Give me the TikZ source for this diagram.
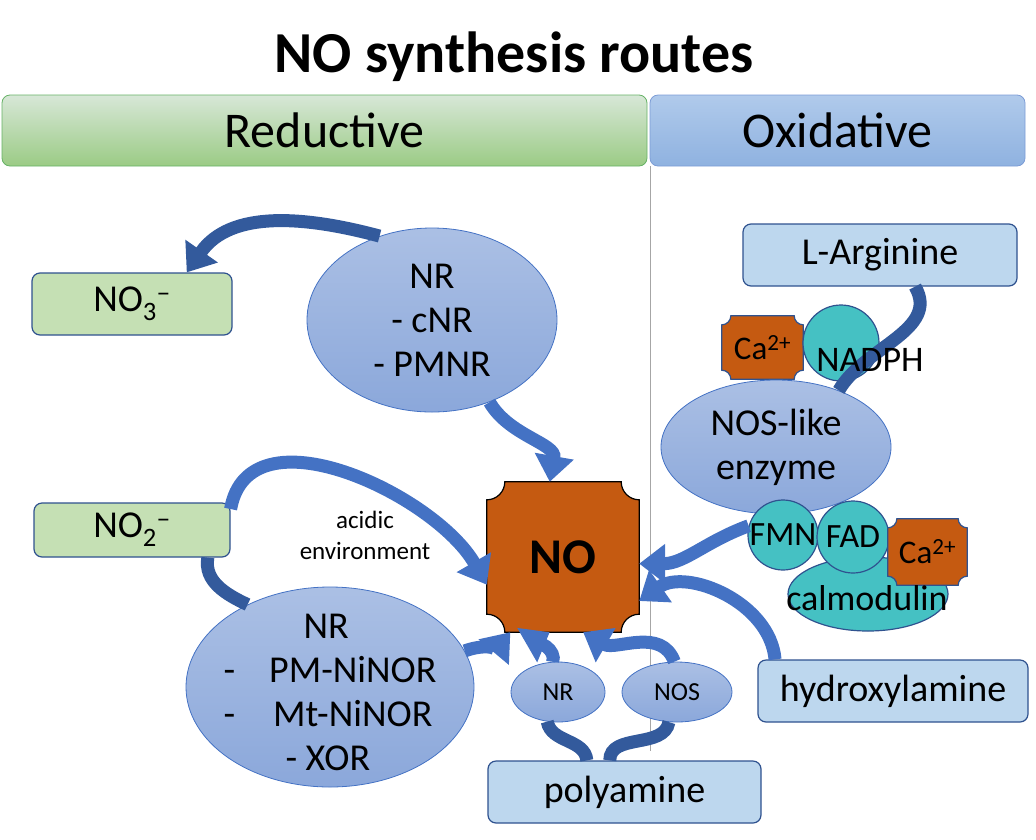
\documentclass[tikz,border=0pt]{standalone}
\usepackage{fontspec}
\setmainfont{Carlito}
\usetikzlibrary{arrows.meta,calc,shapes.geometric}
\definecolor{ab}{HTML}{4472C4}
\definecolor{ad}{HTML}{335A9C}
\definecolor{bx}{HTML}{2F528F}
\definecolor{gf}{HTML}{C5E0B4}
\definecolor{bf}{HTML}{BDD7EE}
\definecolor{og}{HTML}{C55A11}
\definecolor{tq}{HTML}{45C1C3}
\newcommand{\fs}[1]{\fontsize{#1}{#1}\selectfont}
\newcommand{\plaq}[3]{%
 \path[fill=og,draw=#3,line width=1.2pt]
 ($(#1.north west)+(#2,0)$) -- ($(#1.north east)+(-#2,0)$)
 arc[start angle=180,end angle=270,radius=#2] -- ($(#1.south east)+(0,#2)$)
 arc[start angle=90,end angle=180,radius=#2] -- ($(#1.south west)+(#2,0)$)
 arc[start angle=0,end angle=90,radius=#2] -- ($(#1.north west)+(0,-#2)$)
 arc[start angle=270,end angle=360,radius=#2] -- cycle;}
\tikzset{
 box/.style={rectangle,rounded corners=8pt,draw=bx,line width=1.2pt,inner sep=0pt,font=\fs{38}},
 ell/.style={ellipse,draw=ab,line width=0.8pt,top color=ab!45!white,bottom color=ab!62!white,inner sep=0pt,align=center},
 circ/.style={circle,draw=bx,line width=1.2pt,fill=tq,inner sep=0pt},
 arr/.style={line width=13pt,draw=ab,-{Triangle[width=38pt,length=26pt]}},
 ard/.style={line width=13pt,draw=ad},
}
\begin{document}
\begin{tikzpicture}[x=1pt,y=1pt]
\useasboundingbox (0,0) rectangle (1036,-839);
\node[font=\bfseries\fs{58}] (title) at (514,-57) {NO synthesis routes};
\node[rectangle,rounded corners=8pt,draw=green!50!black!60,line width=0.8pt,top color=green!25!gray!25!white,bottom color={rgb,255:red,155;green,203;blue,133},minimum width=645pt,minimum height=71pt,font=\fs{50}] (red) at (324.5,-130.5) {Reductive};
\node[rectangle,rounded corners=8pt,draw=ab!70,line width=0.8pt,top color={rgb,255:red,176;green,202;blue,235},bottom color={rgb,255:red,143;green,178;blue,224},minimum width=375pt,minimum height=71pt,font=\fs{50}] (ox) at (837.5,-130.5) {Oxidative};
\draw[gray!70,line width=0.8pt] (red.south east) ++(2.5,0) coordinate (vl) -- ++(0,-585);

\node[box,fill=gf,minimum width=200pt,minimum height=62pt] (no3) at (132,-304) {NO\textsubscript{3}\textsuperscript{−}};
\node[box,fill=gf,minimum width=196pt,minimum height=54pt] (no2) at (132,-530) {NO\textsubscript{2}\textsuperscript{−}};
\node[ell,minimum width=250pt,minimum height=184pt,font=\fs{38}] (nr) at (432,-320) {NR\\[6pt]- cNR\\[6pt]- PMNR};
\node[ell,minimum width=288pt,minimum height=200pt] (bnr) at (330,-687) {};
\node[rectangle,minimum width=152pt,minimum height=150pt,inner sep=0pt] (no) at (563,-557) {};
\plaq{no}{18}{black}
\node[ell,minimum width=94pt,minimum height=60pt,font=\fs{26}] (snr) at (558,-692) {NR};
\node[ell,minimum width=110pt,minimum height=60pt,font=\fs{26}] (nos) at (677,-692) {NOS};
\node[box,fill=bf,minimum width=273pt,minimum height=62pt] (poly) at (624.5,-792) {polyamine};
\node[box,fill=bf,minimum width=270pt,minimum height=62pt] (hyd) at (893,-691) {hydroxylamine};
\node[box,fill=bf,minimum width=274pt,minimum height=62pt] (larg) at (880,-255) {L-Arginine};
\node[rectangle,minimum width=81pt,minimum height=63pt,inner sep=0pt] (ca1) at (762.5,-347.5) {};
\plaq{ca1}{9}{bx}
\node[circ,minimum size=76pt] (nadph) at (841,-343) {};
\node[ell,minimum width=230pt,minimum height=134pt,font=\fs{38}] (nosl) at (776,-447) {NOS-like\\[6pt]enzyme};
\node[ell,draw=bx,line width=1.2pt,top color=tq,bottom color=tq,minimum width=160pt,minimum height=74pt] (cal) at (868,-594) {};
\node[circ,minimum size=70pt] (fmn) at (783,-535) {};
\node[circ,minimum size=72pt] (fad) at (853,-537) {};
\node[rectangle,minimum width=79pt,minimum height=66pt,inner sep=0pt] (ca2) at (927.5,-552) {};
\plaq{ca2}{9}{bx}

% connectors
\draw[ard,-{Triangle[width=38pt,length=26pt]}] (nr.122) to[out=165,in=55] (no3.30);
\draw[arr] (nr.-55) to[out=-60,in=80] (no.100);
\draw[ard] (bnr.135) to[out=155,in=-100] (no2.-20);
\draw[arr] (no2.12) to[out=80,in=120] (no.-160);
\draw[arr] (bnr.15) to[out=20,in=-130] (no.-125);
\draw[arr] (snr.100) to[out=70,in=-150] (no.-100);
\draw[arr] (nos.95) to[out=110,in=-30] (no.-75);
\draw[ard] (poly.140) to[out=95,in=-80] (snr.-110);
\draw[ard] (poly.115) to[out=90,in=-100] (nos.-105);
\draw[arr] (hyd.165) to[out=95,in=35] (no.-30);
\draw[ard] (larg.-42) to[out=-60,in=60] (nosl.42);
\draw[arr] (fmn.165) to[out=-160,in=0] (no.-5);

% labels
\node[font=\bfseries\fs{50}] (notxt) at (no) {NO};
\node[font=\fs{38},align=left] (bnrt) at (330,-692) {\hspace*{80pt}NR\\[6pt]-\hspace{34pt}PM-NiNOR\\[6pt]-\hspace{38pt}Mt-NiNOR\\[6pt]\hspace*{62pt}- XOR};
\node[align=center,font=\fs{25}] (acid) at (365,-535) {acidic\\[6pt]environment};
\node[font=\fs{33}] (ca1t) at (ca1) {Ca\textsuperscript{2+}};
\node[font=\fs{36}] (nadt) at (870,-360) {NADPH};
\node[font=\fs{33}] (ca2t) at (ca2) {Ca\textsuperscript{2+}};
\node[font=\fs{34}] (fmnt) at (fmn) {FMN};
\node[font=\fs{34}] (fadt) at (fad) {FAD};
\node[font=\fs{36}] (calt) at (867,-598) {calmodulin};
\end{tikzpicture}
\end{document}
